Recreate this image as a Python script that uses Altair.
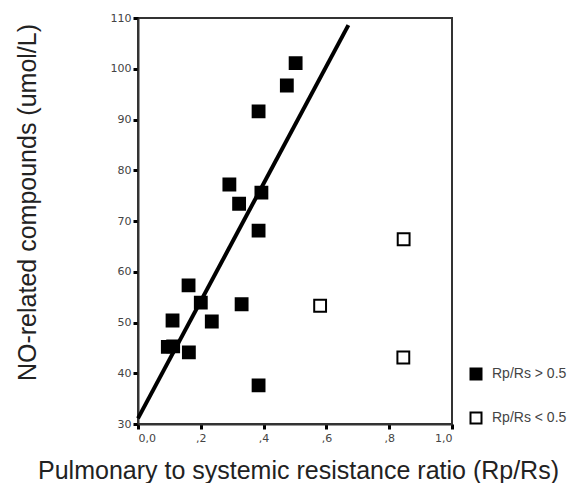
import altair as alt
import pandas as pd

# Data
hi_x = [0.502, 0.474, 0.384, 0.291, 0.322, 0.393, 0.384, 0.161, 0.200, 0.330, 0.110, 0.235, 0.095, 0.112, 0.162, 0.384]
hi_y = [101.1, 96.7, 91.6, 77.2, 73.4, 75.6, 68.1, 57.3, 53.9, 53.6, 50.4, 50.2, 45.2, 45.3, 44.1, 37.6]
lo_x = [0.580, 0.846, 0.845]
lo_y = [53.3, 66.4, 43.1]
groups = ["Rp/Rs > 0.5", "Rp/Rs < 0.5"]

fit_x = [0.0, 0.67]
fit_y = [31.1, 108.6]

x_ticks = [0.0, 0.2, 0.4, 0.6, 0.8, 1.0]
x_tick_labels = ["0,0", ",2", ",4", ",6", ",8", "1,0"]
y_ticks = [30, 40, 50, 60, 70, 80, 90, 100, 110]

pts = pd.DataFrame({
    "x": hi_x + lo_x,
    "y": hi_y + lo_y,
    "group": [groups[0]] * len(hi_x) + [groups[1]] * len(lo_x),
})
fit = pd.DataFrame({"x": fit_x, "y": fit_y})

label_expr = "[" + ",".join("'%s'" % s for s in x_tick_labels) + "][round(datum.value*5)]"

x_enc = alt.X("x:Q", scale=alt.Scale(domain=[0, 1], nice=False),
              axis=alt.Axis(values=x_ticks, labelExpr=label_expr,
                            title="Pulmonary to systemic resistance ratio (Rp/Rs)",
                            titleX=160, titleY=54, titleBaseline="alphabetic",
                            titleAnchor="middle"))
y_enc = alt.Y("y:Q", scale=alt.Scale(domain=[30, 110], nice=False, zero=False),
              axis=alt.Axis(values=y_ticks, title="NO-related compounds (umol/L)",
                            titleX=-103, titleY=184, titleBaseline="alphabetic",
                            titleAngle=-90, titleAnchor="middle"))

line = alt.Chart(fit).mark_line(color="black", strokeWidth=4).encode(x=x_enc, y=y_enc)

points = alt.Chart(pts).mark_point(shape="square", size=140, filled=True,
                                   stroke="black", strokeWidth=2, opacity=1).encode(
    x="x:Q",
    y="y:Q",
    fill=alt.Fill("group:N",
                  scale=alt.Scale(domain=groups, range=["black", "white"]),
                  legend=alt.Legend(title=None, orient="none", legendX=331, legendY=349,
                                    symbolType="square", symbolSize=121,
                                    symbolStrokeColor="black", symbolStrokeWidth=2,
                                    symbolOpacity=1,
                                    labelFont="Liberation Sans", labelFontSize=14,
                                    labelColor="#444", labelOffset=9,
                                    rowPadding=24, padding=0)),
)

chart = (line + points).properties(
    width=314, height=406,
    autosize="none",
    padding={"left": 130, "top": 10, "right": 117, "bottom": 59},
).configure_view(
    stroke="#333", strokeWidth=2
).configure_axis(
    grid=False,
    domainColor="#333", domainWidth=2,
    tickColor="black", tickWidth=3, tickSize=5,
    labelFont="DejaVu Sans", labelFontSize=11, labelColor="#444",
    labelPadding=3,
    titleFont="Liberation Sans", titleFontSize=25, titleFontWeight="normal",
    titleColor="#222",
).configure_axisY(labelPadding=2)

chart.save("out.html", embed_options={"renderer": "svg", "actions": False})
